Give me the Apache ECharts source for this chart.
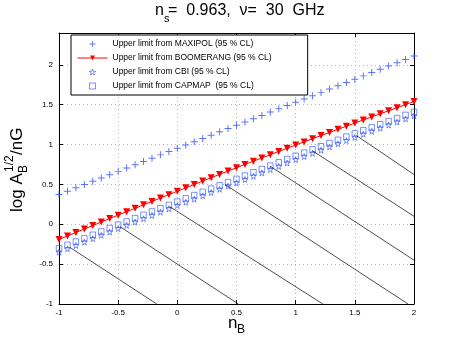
<!DOCTYPE html>
<html>
<head>
<meta charset="utf-8">
<script src="https://cdn.jsdelivr.net/npm/echarts@6/dist/echarts.min.js"></script>
<style>
  html, body { margin: 0; padding: 0; background: #fff; }
  #main { width: 458px; height: 343px; }
</style>
</head>
<body>
<div id="main"></div>
<script>
// spectral index grid (x axis)
var nB = [-1, -0.9286, -0.8571, -0.7857, -0.7143, -0.6429, -0.5714, -0.5, -0.4286, -0.3571,
  -0.2857, -0.2143, -0.1429, -0.0714, 0, 0.0714, 0.1429, 0.2143, 0.2857, 0.3571,
  0.4286, 0.5, 0.5714, 0.6429, 0.7143, 0.7857, 0.8571, 0.9286, 1, 1.0714,
  1.1429, 1.2143, 1.2857, 1.3571, 1.4286, 1.5, 1.5714, 1.6429, 1.7143, 1.7857,
  1.8571, 1.9286, 2];

// upper limits, log A_B^{1/2}/nG
var maxipol = [0.375, 0.416, 0.458, 0.499, 0.540, 0.582, 0.623, 0.664, 0.705, 0.747,
  0.788, 0.829, 0.871, 0.912, 0.953, 0.995, 1.036, 1.077, 1.118, 1.160,
  1.201, 1.242, 1.284, 1.325, 1.366, 1.408, 1.449, 1.490, 1.531, 1.573,
  1.614, 1.655, 1.697, 1.738, 1.779, 1.821, 1.862, 1.903, 1.944, 1.986,
  2.027, 2.068, 2.110];
var boomerang = [-0.190, -0.146, -0.103, -0.059, -0.016, 0.028, 0.072, 0.115, 0.158, 0.201,
  0.244, 0.287, 0.329, 0.372, 0.415, 0.457, 0.499, 0.542, 0.584, 0.626,
  0.668, 0.710, 0.751, 0.792, 0.832, 0.873, 0.914, 0.954, 0.995, 1.034,
  1.074, 1.113, 1.152, 1.191, 1.231, 1.270, 1.309, 1.347, 1.386, 1.424,
  1.463, 1.501, 1.540];
var cbi = [-0.350, -0.308, -0.266, -0.224, -0.181, -0.139, -0.097, -0.055, -0.014, 0.028,
  0.069, 0.111, 0.152, 0.194, 0.235, 0.276, 0.316, 0.357, 0.398, 0.439,
  0.479, 0.520, 0.561, 0.603, 0.644, 0.686, 0.727, 0.769, 0.810, 0.850,
  0.890, 0.930, 0.970, 1.010, 1.050, 1.090, 1.129, 1.167, 1.206, 1.245,
  1.283, 1.322, 1.360];
var capmap = [-0.300, -0.258, -0.216, -0.174, -0.131, -0.089, -0.047, -0.005, 0.036, 0.078,
  0.119, 0.161, 0.202, 0.244, 0.285, 0.326, 0.366, 0.407, 0.448, 0.489,
  0.529, 0.570, 0.611, 0.653, 0.694, 0.736, 0.777, 0.819, 0.860, 0.900,
  0.940, 0.980, 1.020, 1.060, 1.100, 1.140, 1.179, 1.217, 1.256, 1.295,
  1.333, 1.372, 1.410];

// thin black diagonal lines (start / end in data units)
var diagX0 = [-0.907, -0.484, -0.062, 0.403, 0.783, 1.144, 1.516];
var diagY0 = [-0.29, -0.03, 0.22, 0.50, 0.73, 0.92, 1.11];
var diagX1 = [-0.174, 0.516, 1.23, 1.95, 2, 2, 2];
var diagY1 = [-1, -1, -1, -1, -0.45, 0.10, 0.625];

var legendNames = [
  'Upper limit from MAXIPOL (95 % CL)',
  'Upper limit from BOOMERANG (95 % CL)',
  'Upper limit from CBI (95 % CL)',
  'Upper limit from CAPMAP  (95 % CL)'
];

var FONT = 'Liberation Sans';
var BLUE = '#2f50f5';
var RED = '#ff0000';

function pairs(ys) {
  return nB.map(function (x, i) { return [x, ys[i]]; });
}

var plusPath = 'path://M4.3,0H5.7V4.3H10V5.7H5.7V10H4.3V5.7H0V4.3H4.3Z';
var starPath = 'path://M5,0L6.18,3.62L10,3.62L6.91,5.86L8.09,9.51L5,7.27L1.91,9.51L3.09,5.86L0,3.62L3.82,3.62Z';
var squarePath = 'path://M0,0H10V10H0Z';
var triPath = 'path://M0,0L10,0L5,9Z';

var series = [
  {
    name: legendNames[0], type: 'scatter', data: pairs(maxipol),
    symbol: plusPath, symbolSize: 7,
    itemStyle: { color: BLUE }
  },
  {
    name: legendNames[1], type: 'line', data: pairs(boomerang),
    symbol: triPath, symbolSize: 7, showSymbol: true,
    lineStyle: { color: RED, width: 1 },
    itemStyle: { color: RED }
  },
  {
    name: legendNames[2], type: 'scatter', data: pairs(cbi),
    symbol: starPath, symbolSize: 6,
    itemStyle: { color: 'transparent', borderColor: BLUE, borderWidth: 0.8 }
  },
  {
    name: legendNames[3], type: 'scatter', data: pairs(capmap),
    symbol: squarePath, symbolSize: 5.5,
    itemStyle: { color: 'transparent', borderColor: BLUE, borderWidth: 0.8 }
  }
];

diagX0.forEach(function (x0, i) {
  series.push({
    type: 'line', silent: true, symbol: 'none',
    data: [[x0, diagY0[i]], [diagX1[i], diagY1[i]]],
    lineStyle: { color: '#000', width: 0.7 }
  });
});

var gridLine = { show: true, lineStyle: { color: '#b5b5b5', type: [1, 3], width: 1 } };
var axisLine = { show: true, onZero: false, lineStyle: { color: '#000', width: 1 } };
var ticks = { show: true, inside: true, length: 4, lineStyle: { color: '#000' } };

var option = {
  animation: false,
  grid: { left: 59, right: 44, top: 33, bottom: 39 },
  legend: {
    data: [
      { name: legendNames[0], itemStyle: { color: BLUE, borderWidth: 0 } },
      { name: legendNames[1], itemStyle: { color: RED, borderWidth: 0 }, lineStyle: { color: RED, width: 1 } },
      { name: legendNames[2], itemStyle: { color: 'transparent', borderColor: BLUE, borderWidth: 0.8 } },
      { name: legendNames[3], itemStyle: { color: 'transparent', borderColor: BLUE, borderWidth: 0.8 } }
    ],
    orient: 'vertical',
    left: 71, top: 35,
    itemWidth: 30, itemHeight: 6, itemGap: 4,
    symbolKeepAspect: true,
    lineStyle: { width: 1 },
    padding: [4, 36, 4, 6],
    backgroundColor: '#fff',
    borderColor: '#000', borderWidth: 1,
    textStyle: { fontFamily: FONT, fontSize: 8.5, color: '#000', lineHeight: 10 }
  },
  xAxis: [
    {
      type: 'value', min: -1, max: 2, interval: 0.5,
      axisLine: axisLine, axisTick: ticks,
      axisLabel: { fontFamily: FONT, fontSize: 8, color: '#000', margin: 5 },
      splitLine: gridLine
    },
    {
      type: 'value', min: -1, max: 2, interval: 0.5, position: 'top',
      axisLine: axisLine, axisTick: ticks,
      axisLabel: { show: false }, splitLine: { show: false }
    }
  ],
  yAxis: [
    {
      type: 'value', min: -1, max: 2.4, interval: 0.5,
      axisLine: axisLine, axisTick: ticks,
      axisLabel: { fontFamily: FONT, fontSize: 8, color: '#000', margin: 6, showMaxLabel: false },
      splitLine: gridLine
    },
    {
      type: 'value', min: -1, max: 2.4, interval: 0.5, position: 'right',
      axisLine: axisLine, axisTick: ticks,
      axisLabel: { show: false }, splitLine: { show: false }
    }
  ],
  graphic: [
    // title  n_s= 0.963, nu= 30 GHz
    { type: 'text', left: 155, top: 3, style: { text: 'n', font: '16px ' + FONT, fill: '#000' } },
    { type: 'text', left: 164, top: 13, style: { text: 's', font: '11px ' + FONT, fill: '#000' } },
    { type: 'text', left: 168, top: 3, style: { text: '=  0.963,  \u03bd=  30  GHz', font: '16px ' + FONT, fill: '#000' } },
    // x label n_B
    { type: 'text', left: 228, top: 315, style: { text: 'n', font: '17px ' + FONT, fill: '#000' } },
    { type: 'text', left: 237, top: 324, style: { text: 'B', font: '12px ' + FONT, fill: '#000' } },
    // y label log A_B^{1/2}/nG
    {
      type: 'group', x: 9, y: 212, rotation: Math.PI / 2,
      children: [
        { type: 'text', x: 0, y: 0, style: { text: 'log A', font: '17px ' + FONT, fill: '#000' } },
        { type: 'text', x: 39, y: 9, style: { text: 'B', font: '12px ' + FONT, fill: '#000' } },
        { type: 'text', x: 40, y: -5, style: { text: '1/2', font: '12px ' + FONT, fill: '#000' } },
        { type: 'text', x: 57, y: 0, style: { text: '/nG', font: '17px ' + FONT, fill: '#000' } }
      ]
    }
  ],
  series: series
};

var chart = echarts.init(document.getElementById('main'));
chart.setOption(option);
</script>
</body>
</html>
